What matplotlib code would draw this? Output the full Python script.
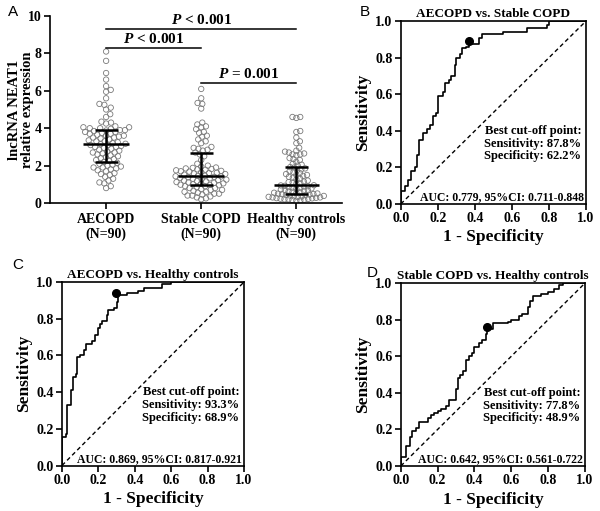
import numpy as np
import matplotlib
matplotlib.use("Agg")
import matplotlib.pyplot as plt

plt.rcParams['font.family'] = ['Liberation Serif', 'DejaVu Serif']
plt.rcParams['font.weight'] = 'bold'
plt.rcParams['axes.titleweight'] = 'bold'
plt.rcParams['axes.labelweight'] = 'bold'
plt.rcParams['mathtext.fontset'] = 'custom'
plt.rcParams['mathtext.it'] = 'Liberation Serif:bold:italic'
plt.rcParams['mathtext.rm'] = 'Liberation Serif:bold'

# ---- Panel A data: lncRNA NEAT1 relative expression ----
groups = ['AECOPD\n(N=90)', 'Stable COPD\n(N=90)', 'Healthy controls\n(N=90)']
aecopd = [8.1, 7.6, 6.95, 6.6, 6.25, 6.05, 5.95, 5.6, 5.3, 5.25, 5.1, 5.0, 4.75, 4.6,
          4.35, 4.3, 4.25, 4.1, 4.05, 4.05, 4.0, 4.0, 3.97,
          3.9, 3.9, 3.88, 3.85, 3.8, 3.8, 3.75, 3.7, 3.7, 3.65, 3.6, 3.6, 3.55, 3.5, 3.5,
          3.45, 3.4, 3.35, 3.3, 3.3, 3.25, 3.2, 3.17,
          3.15, 3.1, 3.1, 3.05, 3.0, 3.0, 2.95, 2.9, 2.85, 2.8, 2.75, 2.7, 2.7, 2.65, 2.6,
          2.55, 2.5, 2.45, 2.4, 2.35, 2.3, 2.25,
          2.2, 2.15, 2.1, 2.05, 2.0, 1.95, 1.9, 1.9, 1.85, 1.8, 1.75, 1.7, 1.6, 1.55, 1.5,
          1.4, 1.3, 1.2, 1.1, 1.05, 0.9, 0.8]
stable = [6.1, 5.6, 5.35, 5.3, 5.05, 4.3, 4.2, 4.1, 4.05, 3.95, 3.8, 3.75, 3.6, 3.55,
          3.4, 3.3, 3.2, 3.0, 2.95, 2.9, 2.85, 2.8, 2.7,
          2.6, 2.5, 2.3, 2.1, 2.0, 1.95, 1.9, 1.88, 1.85, 1.82, 1.8, 1.78, 1.75, 1.72, 1.7,
          1.68, 1.65, 1.62, 1.6, 1.58, 1.55, 1.52, 1.46,
          1.45, 1.43, 1.42, 1.4, 1.38, 1.35, 1.32, 1.3, 1.28, 1.25, 1.22, 1.2, 1.18, 1.15,
          1.12, 1.1, 1.08, 1.05, 1.02, 1.0, 0.98, 0.97,
          0.95, 0.9, 0.9, 0.85, 0.8, 0.8, 0.75, 0.7, 0.7, 0.65, 0.6, 0.6, 0.55, 0.5, 0.5,
          0.45, 0.4, 0.4, 0.35, 0.3, 0.25, 0.2]
healthy = [4.6, 4.55, 4.6, 3.85, 3.8, 3.5, 3.3, 3.2, 2.95, 2.8, 2.75, 2.7, 2.65, 2.6,
           2.6, 2.55, 2.4, 2.35, 2.3, 2.2, 2.1, 2.05, 2.0,
           1.92, 1.9, 1.85, 1.8, 1.75, 1.7, 1.65, 1.6, 1.55, 1.5, 1.5, 1.45, 1.4, 1.35,
           1.3, 1.25, 1.2, 1.15, 1.12, 1.1, 1.05, 1.02, 0.95,
           0.94, 0.92, 0.9, 0.88, 0.85, 0.82, 0.8, 0.78, 0.75, 0.72, 0.7, 0.68, 0.65, 0.62,
           0.6, 0.57, 0.55, 0.53, 0.51, 0.5, 0.48, 0.47,
           0.45, 0.43, 0.42, 0.4, 0.38, 0.36, 0.35, 0.33, 0.32, 0.3, 0.3, 0.28, 0.26, 0.25,
           0.23, 0.22, 0.2, 0.2, 0.18, 0.16, 0.14, 0.12]
medians = [3.17, 1.46, 0.95]
q1s = [2.22, 0.98, 0.47]
q3s = [3.91, 2.67, 1.94]

# significance brackets: (left group, right group, height, label)
sig_left = [0, 0, 1]
sig_right = [2, 1, 2]
sig_y = [9.28, 8.27, 6.4]
sig_text = ['$P$ < 0.001', '$P$ < 0.001', '$P$ = 0.001']

# ---- ROC curves (corner points of step curves) ----
roc_titles = ['AECOPD vs. Stable COPD', 'AECOPD vs. Healthy controls', 'Stable COPD vs. Healthy controls']
b_fpr = [0, 0, 0.02, 0.04, 0.055, 0.075, 0.09, 0.10, 0.12, 0.14, 0.16, 0.175, 0.19, 0.20,
         0.23, 0.24, 0.26, 0.27, 0.29, 0.30, 0.32, 0.33, 0.35, 0.37, 0.42, 0.44, 0.55,
         0.68, 0.79, 0.80, 1.0]
b_tpr = [0, 0.07, 0.10, 0.13, 0.18, 0.20, 0.27, 0.35, 0.39, 0.41, 0.43, 0.48, 0.50, 0.59,
         0.61, 0.66, 0.68, 0.70, 0.76, 0.80, 0.82, 0.85, 0.86, 0.877, 0.905, 0.927, 0.94,
         0.96, 0.98, 1.0, 1.0]
c_fpr = [0, 0, 0.02, 0.03, 0.05, 0.06, 0.075, 0.085, 0.10, 0.12, 0.13, 0.165, 0.18, 0.20,
         0.21, 0.22, 0.245, 0.255, 0.285, 0.30, 0.31, 0.36, 0.42, 0.45, 0.55, 0.60, 1.0]
c_tpr = [0, 0.155, 0.17, 0.33, 0.41, 0.48, 0.50, 0.59, 0.60, 0.63, 0.66, 0.68, 0.71, 0.75,
         0.77, 0.79, 0.82, 0.85, 0.86, 0.89, 0.93, 0.94, 0.95, 0.97, 0.99, 1.0, 1.0]
d_fpr = [0, 0, 0.03, 0.05, 0.06, 0.08, 0.10, 0.145, 0.165, 0.18, 0.20, 0.22, 0.245, 0.26,
         0.30, 0.31, 0.32, 0.335, 0.355, 0.37, 0.385, 0.40, 0.425, 0.44, 0.46, 0.47, 0.50,
         0.58, 0.60, 0.64, 0.66, 0.69, 0.70, 0.72, 0.76, 0.80, 0.83, 0.86, 0.88, 1.0]
d_tpr = [0, 0.05, 0.11, 0.16, 0.19, 0.21, 0.24, 0.26, 0.28, 0.29, 0.30, 0.31, 0.33, 0.36,
         0.42, 0.48, 0.50, 0.52, 0.58, 0.60, 0.62, 0.65, 0.67, 0.69, 0.72, 0.75, 0.78,
         0.79, 0.80, 0.82, 0.83, 0.87, 0.90, 0.93, 0.94, 0.95, 0.97, 0.99, 1.0, 1.0]
best_fpr = [0.367, 0.295, 0.47]
best_tpr = [0.893, 0.94, 0.76]
best_sens = ['87.8%', '93.3%', '77.8%']
best_spec = ['62.2%', '68.9%', '48.9%']
auc_text = ['AUC: 0.779, 95%CI: 0.711-0.848',
            'AUC: 0.869, 95%CI: 0.817-0.921',
            'AUC: 0.642, 95%CI: 0.561-0.722']


def swarm_offsets(vals, d, y_scale):
    # simple beeswarm: place each point as close to the centre as possible
    vals = np.asarray(vals, dtype=float)
    order = np.argsort(vals)
    offs = np.zeros(len(vals))
    px, py = [], []
    for i in order:
        y = vals[i] * y_scale
        near = [(a, b) for a, b in zip(px, py) if abs(b - y) < d]
        cands = [0.0]
        for a, b in near:
            dx = np.sqrt(d ** 2 - (b - y) ** 2)
            cands += [a + dx, a - dx]
        cands.sort(key=abs)
        for c in cands:
            if all((c - a) ** 2 + (y - b) ** 2 >= d ** 2 - 1e-6 for a, b in near):
                break
        offs[i] = c
        px.append(c)
        py.append(y)
    return offs


fig = plt.figure(figsize=(6, 5.11), dpi=100)

# ---------------- Panel A ----------------
axA = fig.add_axes([0.0833, 0.6027, 0.4867, 0.366])
px_per_unit_y = 18.73
px_per_cat = 95.0
swarm_d = [5.0, 4.8, 4.0]
for k, vals in enumerate([aecopd, stable, healthy]):
    offs = swarm_offsets(vals, swarm_d[k], px_per_unit_y) / px_per_cat
    axA.scatter(k + offs, vals, s=15, facecolors='none', edgecolors='#7a7a7a',
                linewidths=0.6, zorder=2)
    axA.hlines(medians[k], k - 0.24, k + 0.24, color='black', lw=1.8, zorder=3)
    axA.hlines([q1s[k], q3s[k]], k - 0.12, k + 0.12, color='black', lw=1.8, zorder=3)
    axA.vlines(k, q1s[k], q3s[k], color='black', lw=1.8, zorder=3)

for l, r, y, t in zip(sig_left, sig_right, sig_y, sig_text):
    axA.plot([l, r], [y, y], color='black', lw=1.1)
    axA.text((l + r) / 2, y + 0.12, t, ha='center', va='bottom', fontsize=11,
             fontweight='bold')

axA.set_xlim(-0.59, 2.48)
axA.set_ylim(0, 10)
axA.set_yticks([0, 2, 4, 6, 8, 10])
axA.set_xticks([0, 1, 2])
axA.set_xticklabels(groups, fontsize=10, linespacing=1.2, fontweight='bold')
axA.tick_params(axis='y', labelsize=10, width=1.2, length=4, pad=2)
axA.tick_params(axis='x', width=1.2, length=4, pad=3)
axA.set_ylabel('lncRNA NEAT1\nrelative expression', fontsize=10.5, linespacing=1.05,
               va='center')
axA.yaxis.set_label_coords(-0.1, 0.5)
for s in ['top', 'right']:
    axA.spines[s].set_visible(False)
for s in ['left', 'bottom']:
    axA.spines[s].set_linewidth(1.2)

# ---------------- ROC panels ----------------
roc_boxes = [[0.668, 0.6008, 0.3087, 0.358],
             [0.1033, 0.0890, 0.3033, 0.359],
             [0.668, 0.0880, 0.3070, 0.358]]
roc_fpr = [b_fpr, c_fpr, d_fpr]
roc_tpr = [b_tpr, c_tpr, d_tpr]

for i in range(3):
    ax = fig.add_axes(roc_boxes[i])
    ax.step(roc_fpr[i], roc_tpr[i], where='post', color='black', lw=1.2, zorder=3)
    ax.plot([0, 1], [0, 1], color='black', lw=1.0, ls=(0, (3, 2.2)), zorder=2)
    ax.plot(best_fpr[i], best_tpr[i], 'o', color='black', ms=5.5, zorder=4)
    ax.set_xlim(0, 1)
    ax.set_ylim(0, 1)
    ticks = np.arange(0, 1.01, 0.2)
    ax.set_xticks(ticks)
    ax.set_yticks(ticks)
    ax.set_xticklabels([f'{t:.1f}' for t in ticks], fontweight='bold')
    ax.set_yticklabels([f'{t:.1f}' for t in ticks], fontweight='bold')
    ax.tick_params(labelsize=10, width=1.2, length=4, pad=2)
    for s in ax.spines.values():
        s.set_linewidth(1.2)
    ax.set_xlabel('1 - Specificity', fontsize=12.5, labelpad=3)
    ax.set_ylabel('Sensitivity', fontsize=12.5, labelpad=3)
    ax.set_title(roc_titles[i], fontsize=9.5, pad=3)
    ax.text(0.975, 0.40, 'Best cut-off point:', ha='right', va='center', fontsize=9,
            fontweight='bold')
    ax.text(0.975, 0.33, 'Sensitivity: ' + best_sens[i], ha='right', va='center',
            fontsize=9, fontweight='bold')
    ax.text(0.975, 0.26, 'Specificity: ' + best_spec[i], ha='right', va='center',
            fontsize=9, fontweight='bold')
    ax.text(0.99, 0.035, auc_text[i], ha='right', va='center', fontsize=8.5,
            fontweight='bold')

# panel letters
for lab, x, y in [('A', 8, 12), ('B', 360, 12), ('C', 12, 265), ('D', 367, 273)]:
    fig.text(x / 600, 1 - y / 511, lab, fontsize=11, fontweight='normal',
             family='Liberation Sans', ha='left', va='center')

fig.savefig('out.png', dpi=100)
